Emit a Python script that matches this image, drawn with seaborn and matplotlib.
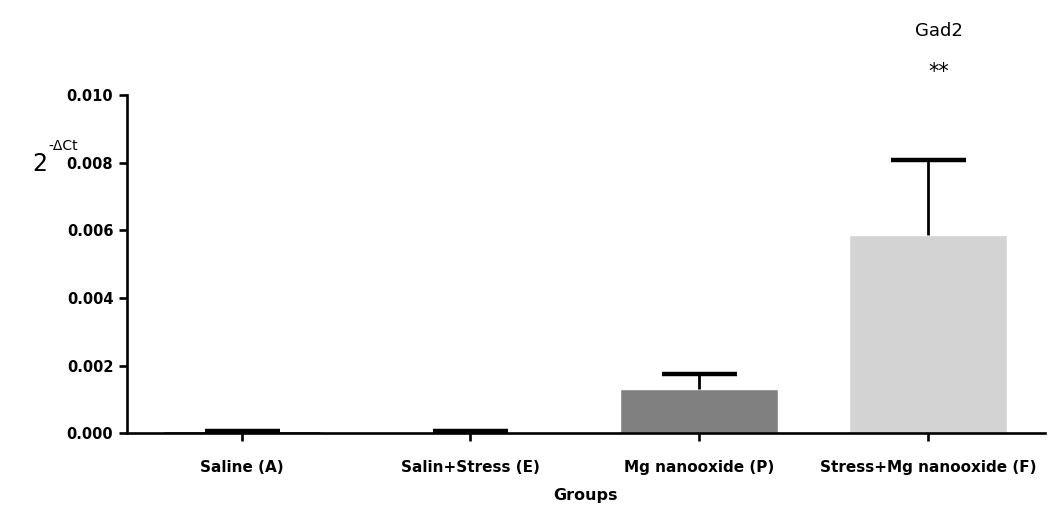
import matplotlib
matplotlib.use('Agg')
import matplotlib.pyplot as plt
import seaborn as sns
import pandas as pd

# data
groups = ['Saline (A)', 'Salin+Stress (E)', 'Mg nanooxide (P)', 'Stress+Mg nanooxide (F)']
means = [0.00006, 0.00004, 0.00131, 0.00585]
sem = [0.00001, 0.00002, 0.00045, 0.00222]
bar_colors = ['#000000', '#d3d3d3', '#808080', '#d3d3d3']

df = pd.DataFrame({'Groups': groups, 'value': means})

sns.set_style('white')
plt.rcParams['font.family'] = ['DejaVu Sans']
plt.rcParams['text.color'] = 'black'
plt.rcParams['axes.labelcolor'] = 'black'
plt.rcParams['xtick.color'] = 'black'
plt.rcParams['ytick.color'] = 'black'

fig = plt.figure(figsize=(10.51, 5.12), dpi=100)
ax = fig.add_axes([0.121, 0.154, 0.873, 0.660])

sns.barplot(data=df, x='Groups', y='value', hue='Groups', palette=bar_colors,
            errorbar=None, width=0.69, legend=False, ax=ax, saturation=1)

# one-sided error bars (upward only)
eb = ax.errorbar(range(len(groups)), means, yerr=[[0] * len(sem), sem], fmt='none',
                 ecolor='black', elinewidth=2, capsize=27, capthick=3.2, zorder=3)
eb[1][0].set_visible(False)  # drop the lower caps

ax.set_ylim(0, 0.010)
ax.set_xlim(-0.50, 3.51)
ax.set_yticks([0, 0.002, 0.004, 0.006, 0.008, 0.010])
ax.set_yticklabels(['0.000', '0.002', '0.004', '0.006', '0.008', '0.010'],
                   fontweight='bold', fontsize=10.5)
ax.set_xticks(range(len(groups)))
ax.set_xticklabels(groups, fontweight='bold', fontsize=11)

for s in ['top', 'right']:
    ax.spines[s].set_visible(False)
for s in ['left', 'bottom']:
    ax.spines[s].set_linewidth(1.9)
    ax.spines[s].set_color('black')

ax.tick_params(axis='y', direction='out', length=6, width=1.9, left=True, pad=4)
ax.tick_params(axis='x', direction='out', length=6, width=1.9, bottom=True, pad=13)

ax.set_xlabel('Groups', fontweight='bold', fontsize=11.5, labelpad=10)
ax.set_ylabel('')

# y label: big "2" with a small superscript
fig.text(0.038, 0.68, '2', fontsize=17, ha='center', va='center')
fig.text(0.046, 0.715, '-ΔCt', fontsize=10, ha='left', va='center')
fig.text(0.893, 0.94, 'Gad2', fontsize=13, ha='center', va='center')
fig.text(0.893, 0.86, '**', fontsize=15, ha='center', va='center')

fig.savefig('out.png', dpi=100)
